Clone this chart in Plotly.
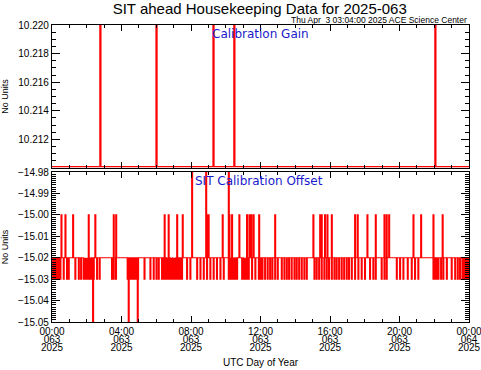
import plotly.graph_objects as go
from plotly.subplots import make_subplots

# ---------------- data (hours of day 2025-063) ----------------
GAIN_BASE = 10.2101
GAIN_SPIKE = 10.225
GAIN_SPIKE_HOURS = [2.76, 5.99, 9.27, 10.47, 22.04]

OFFSET_BASE = -15.02
OFFSET_UP = -15.00
OFFSET_DIP = -15.03
OFFSET_LOW = -15.06
OFFSET_HIGH = -14.97

OFFSET_UP_HOURS = [0.52, 0.75, 1.19, 2.09, 2.47, 3.53, 3.67, 6.46, 6.69, 7.18, 7.50,
                   8.90, 8.99, 9.80, 10.19, 10.34, 10.76, 11.20, 11.34, 11.45, 11.58,
                   11.90, 12.82, 15.02, 15.41, 15.50, 15.69, 15.83, 16.08, 17.42, 17.57,
                   18.13, 18.61, 19.11, 19.24, 19.38, 20.78, 21.22, 21.93, 22.46]
OFFSET_DIP_HOURS = [0.04, 0.08, 0.12, 0.16, 0.19, 0.23, 0.27, 0.31, 0.36, 0.46, 0.65,
                    0.84, 0.94, 1.32, 1.52, 1.65, 1.80, 1.85, 1.90, 1.95, 2.00, 2.05,
                    2.09, 2.14, 2.19, 2.28, 2.38, 2.57, 2.72, 3.43, 3.53, 3.66, 4.33,
                    4.45, 4.55, 4.64, 4.74, 4.83, 4.93, 5.30, 5.64, 5.83, 5.99, 6.12,
                    6.31, 6.41, 6.50, 6.60, 6.65, 6.70, 6.75, 6.79, 6.84, 6.89, 6.93,
                    6.98, 7.03, 7.08, 7.18, 7.27, 7.37, 7.46, 7.75, 7.94, 8.33, 8.52,
                    8.71, 8.90, 9.09, 9.28, 9.47, 9.67, 9.86, 10.15, 10.20, 10.24,
                    10.29, 10.34, 10.39, 10.44, 10.48, 10.53, 10.63, 10.92, 10.97,
                    11.01, 11.06, 11.11, 11.16, 11.20, 11.30, 11.49, 11.68, 11.88,
                    11.95, 12.02, 12.09, 12.24, 12.39, 12.53, 12.66, 12.82, 12.97,
                    13.20, 13.35, 13.49, 13.62, 13.77, 13.93, 14.06, 14.20, 14.35,
                    14.50, 14.64, 15.08, 15.21, 15.35, 15.50, 15.65, 15.79, 15.92,
                    16.08, 16.23, 16.36, 16.50, 16.65, 16.79, 16.94, 17.07, 17.23,
                    17.42, 17.61, 17.80, 17.99, 18.28, 18.47, 18.61, 18.95, 19.11,
                    19.24, 19.82, 20.01, 20.20, 20.45, 20.68, 20.87, 21.06, 21.93,
                    21.98, 22.02, 22.12, 22.22, 22.37, 22.50, 22.70, 22.98, 23.18,
                    23.33, 23.46, 23.60, 23.66, 23.72, 23.78, 23.84, 23.90, 23.95]
OFFSET_LOW_HOURS = [2.34, 4.39, 4.91]
OFFSET_HIGH_HOURS = [8.04, 8.85, 10.15]

TICK_HOURS = [0, 4, 8, 12, 16, 20, 24]
TICK_TIMES = ["00:00", "04:00", "08:00", "12:00", "16:00", "20:00", "00:00"]
TICK_DOYS = ["063", "063", "063", "063", "063", "063", "064"]
TICK_YEARS = ["2025"] * 7

GAIN_TICKS = [10.212, 10.214, 10.216, 10.218, 10.220]
OFFSET_TICKS = [-15.05, -15.04, -15.03, -15.02, -15.01, -15.00, -14.99, -14.98]

PULSE = 0.05  # hours a sample stays at the excursion value


def pulses(base, events):
    events = sorted(events)
    xs, ys = [0.0], [base]
    for t, v in events:
        xs += [t, t + PULSE]
        ys += [v, base]
    xs.append(24.0)
    ys.append(base)
    return xs, ys


gx, gy = pulses(GAIN_BASE, [(t, GAIN_SPIKE) for t in GAIN_SPIKE_HOURS])
ev = ([(t, OFFSET_UP) for t in OFFSET_UP_HOURS] + [(t, OFFSET_DIP) for t in OFFSET_DIP_HOURS]
      + [(t, OFFSET_LOW) for t in OFFSET_LOW_HOURS] + [(t, OFFSET_HIGH) for t in OFFSET_HIGH_HOURS])
ox, oy = pulses(OFFSET_BASE, ev)

RED = "#ff0000"
BLUE = "#1a1acc"
FONT = "Liberation Sans"
TFONT = dict(family=FONT, size=10, color="black")

fig = make_subplots(rows=2, cols=1, shared_xaxes=False, vertical_spacing=0.0)
fig.add_trace(go.Scatter(x=gx, y=gy, mode="lines", line=dict(color=RED, width=1.4, shape="hv"),
                         showlegend=False, hoverinfo="skip"), row=1, col=1)
fig.add_trace(go.Scatter(x=ox, y=oy, mode="lines", line=dict(color=RED, width=1.2, shape="hv"),
                         showlegend=False, hoverinfo="skip"), row=2, col=1)
# invisible carriers so the extra label axes (day of year, year) get drawn
for ax in ("x3", "x4"):
    fig.add_trace(go.Scatter(x=[0, 24], y=[OFFSET_BASE, OFFSET_BASE], mode="lines",
                             line=dict(width=0, color="rgba(0,0,0,0)"), showlegend=False,
                             hoverinfo="skip", xaxis=ax, yaxis="y2"))

common_x = dict(range=[0, 24], showgrid=False, zeroline=False, showline=True, linecolor="black",
                linewidth=1.2, mirror="ticks", ticks="inside", ticklen=6, tickcolor="black",
                tickvals=TICK_HOURS, automargin=False, ticklabeloverflow="allow",
                minor=dict(dtick=1, ticks="inside", ticklen=3, tickcolor="black"),
                tickfont=TFONT)
label_x = dict(range=[0, 24], showgrid=False, zeroline=False, showline=False, ticks="",
               tickvals=TICK_HOURS, automargin=False, tickfont=TFONT, ticklabeloverflow="allow",
               overlaying="x2", anchor="y2", domain=[0, 1])
common_y = dict(showgrid=False, zeroline=False, showline=True, linecolor="black",
                linewidth=1.2, mirror="ticks", ticks="inside", ticklen=8, tickcolor="black",
                automargin=False, tickfont=TFONT,
                title=dict(text="No Units", font=dict(family=FONT, size=9, color="black")))

fig.update_layout(
    xaxis=dict(common_x, domain=[0, 1], showticklabels=False, anchor="y"),
    xaxis2=dict(common_x, domain=[0, 1], anchor="y2", ticktext=TICK_TIMES),
    xaxis3=dict(label_x, ticktext=TICK_DOYS, ticklabelstandoff=10),
    xaxis4=dict(label_x, ticktext=TICK_YEARS, ticklabelstandoff=18),
    yaxis=dict(common_y, domain=[0.5185, 1.0], range=[10.210, 10.220], tickvals=GAIN_TICKS,
               tickformat=".3f",
               minor=dict(dtick=0.0005, ticks="inside", ticklen=4, tickcolor="black")),
    yaxis2=dict(common_y, domain=[0, 0.505], range=[-15.05, -14.98], tickvals=OFFSET_TICKS,
                tickformat=".2f",
                minor=dict(dtick=0.001, ticks="inside", ticklen=4, tickcolor="black")),
    width=481, height=370,
    margin=dict(l=52, r=12, t=25, b=48),
    paper_bgcolor="white", plot_bgcolor="white",
    title=dict(text="SIT ahead Housekeeping Data for 2025-063", x=0.54, xanchor="center",
               y=0.99, yanchor="top", font=dict(family=FONT, size=15, color="black")),
    annotations=[
        dict(text="Thu Apr  3 03:04:00 2025 ACE Science Center", xref="paper", yref="paper",
             x=1.0, y=1.0, xanchor="right", yanchor="bottom", showarrow=False, yshift=-2,
             font=dict(family=FONT, size=8.5, color="black")),
        dict(text="Calibration Gain", xref="x", yref="paper", x=12.0, y=1.0, xanchor="center",
             yanchor="top", showarrow=False, yshift=0,
             font=dict(family="DejaVu Sans", size=12, color=BLUE)),
        dict(text="SIT Calibration Offset", xref="x2", yref="paper", x=11.9, y=0.505,
             xanchor="center", yanchor="top", showarrow=False, yshift=0,
             font=dict(family="DejaVu Sans", size=12, color=BLUE)),
        dict(text="UTC Day of Year", xref="paper", yref="paper", x=0.5, y=0, xanchor="center",
             yanchor="top", showarrow=False, yshift=-33,
             font=dict(family=FONT, size=10, color="black")),
    ],
)
fig.write_html("out.html", post_script="document.body.style.margin='0';",
               config={"displayModeBar": False})
